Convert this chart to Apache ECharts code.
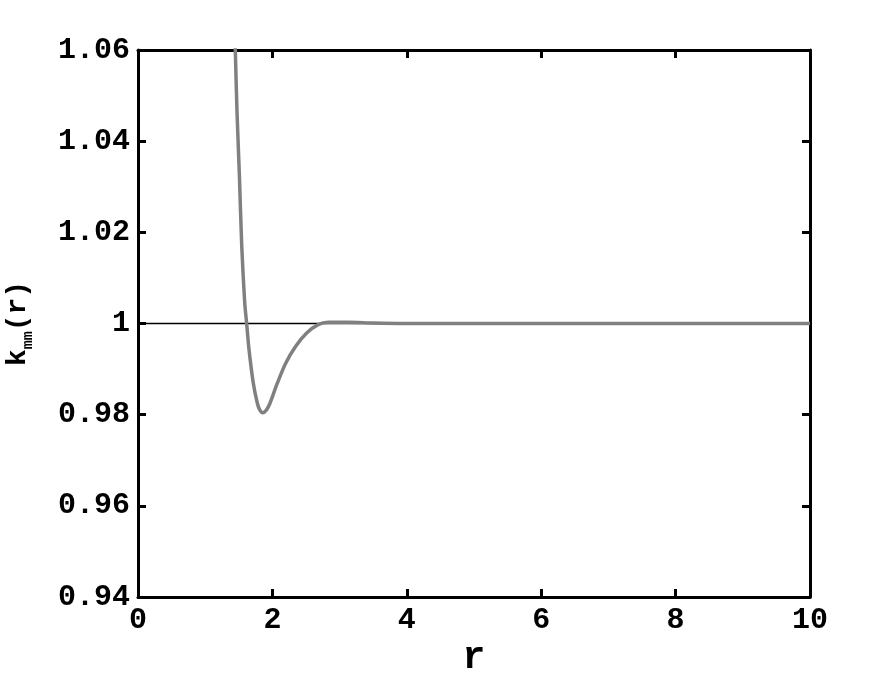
<!DOCTYPE html>
<html>
<head>
<meta charset="utf-8">
<script src="https://cdn.jsdelivr.net/npm/echarts@6/dist/echarts.min.js"></script>
<style>
  html, body { margin: 0; padding: 0; background: #fff; }
  #chart { width: 896px; height: 674px; }
</style>
</head>
<body>
<div id="chart"></div>
<script>
// k_mm(r) curve
const rValues = [1.42, 1.448, 1.473, 1.51, 1.543, 1.588, 1.617, 1.652, 1.716, 1.776, 1.81, 1.855, 1.91, 1.964,
  2.073, 2.198, 2.347, 2.51, 2.68, 2.83, 3.13, 3.5, 4.0, 5, 6, 7, 8, 9, 10]
const kValues = [1.075, 1.060, 1.0466, 1.032, 1.0173, 1.0046, 1.0, 0.9943, 0.9869, 0.9825, 0.9811, 0.9804, 0.9810,
  0.9825, 0.9869, 0.9913, 0.995, 0.9979, 0.99975, 1.0003, 1.0003, 1.0001, 1.0, 1.0, 1.0, 1.0, 1.0, 1.0, 1.0]

// reference line at k = 1
const refX = [0, 10]
const refY = [1, 1]

const xTicks = [0, 2, 4, 6, 8, 10]
const yTicks = [0.94, 0.96, 0.98, 1, 1.02, 1.04, 1.06]
const yTickLabels = ['0.94', '0.96', '0.98', '1', '1.02', '1.04', '1.06']

const font = "'Liberation Mono', 'Courier New', monospace"
const black = '#000'

const yLabel = (val) => {
  const i = yTicks.findIndex(t => Math.abs(t - val) < 1e-9)
  return i >= 0 ? yTickLabels[i] : ''
}

const chart = echarts.init(document.getElementById('chart'))

const axisLine = { show: true, onZero: false, lineStyle: { color: black, width: 3 } }
const axisTick = { show: true, inside: true, length: 8, lineStyle: { color: black, width: 3 } }

chart.setOption({
  animation: false,
  backgroundColor: '#fff',
  grid: { left: 138, right: 86, top: 50, bottom: 77, containLabel: false, outerBoundsMode: 'none' },
  xAxis: [{
    type: 'value', min: 0, max: 10, interval: 2, position: 'bottom',
    axisLine, axisTick,
    splitLine: { show: false },
    axisLabel: { color: black, fontFamily: font, fontWeight: 'bold', fontSize: 30, margin: 8 },
    name: 'r', nameLocation: 'middle', nameGap: 34,
    nameTextStyle: { color: black, fontFamily: font, fontWeight: 'bold', fontSize: 38 }
  }, {
    type: 'value', min: 0, max: 10, interval: 2, position: 'top',
    axisLine, axisTick,
    splitLine: { show: false }, axisLabel: { show: false }
  }],
  yAxis: [{
    type: 'value', min: 0.94, max: 1.06, interval: 0.02, position: 'left',
    axisLine, axisTick,
    splitLine: { show: false },
    axisLabel: { color: black, fontFamily: font, fontWeight: 'bold', fontSize: 30, margin: 8, formatter: yLabel },
    name: '{k|k}{s|mm}{k|(r)}', nameLocation: 'middle', nameGap: 102,
    nameTextStyle: {
      rich: {
        k: { color: black, fontFamily: font, fontWeight: 'bold', fontSize: 28 },
        s: { color: black, fontFamily: font, fontWeight: 'bold', fontSize: 15, padding: [22, 0, 0, 0] }
      }
    }
  }, {
    type: 'value', min: 0.94, max: 1.06, interval: 0.02, position: 'right',
    axisLine, axisTick,
    splitLine: { show: false }, axisLabel: { show: false }
  }],
  series: [{
    type: 'line',
    data: refX.map((x, i) => [x, refY[i]]),
    showSymbol: false,
    lineStyle: { color: black, width: 1.5 },
    z: 2
  }, {
    type: 'line',
    data: rValues.map((r, i) => [r, kValues[i]]),
    showSymbol: false,
    smooth: 0.3,
    clip: true,
    lineStyle: { color: '#808080', width: 3.5 },
    z: 3
  }]
})
</script>
</body>
</html>
